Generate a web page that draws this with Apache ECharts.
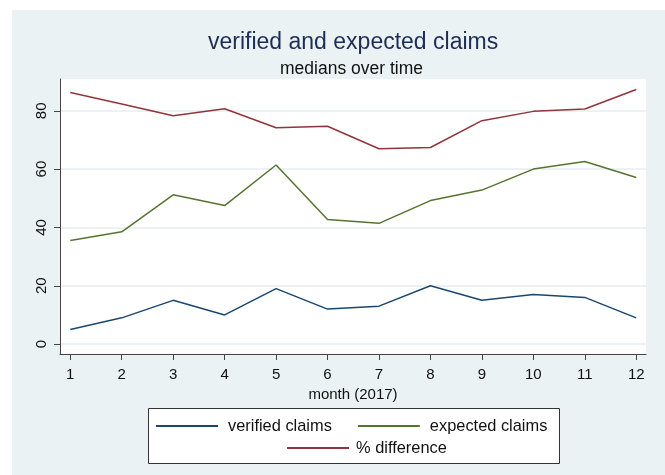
<!DOCTYPE html>
<html lang="en">
<head>
    <meta charset="UTF-8">
    <title>verified and expected claims</title>
    <script src="https://cdn.jsdelivr.net/npm/echarts@6/dist/echarts.min.js"></script>
    <style type="text/css">
        html, body { margin: 0; padding: 0; background: #fff; }
        #main { width: 665px; height: 475px; }
    </style>
</head>
<body>
<div id="main"></div>
<script type="text/javascript">
    // months of 2017 and the three median series
    var months = [1, 2, 3, 4, 5, 6, 7, 8, 9, 10, 11, 12];
    var verifiedClaims = [5, 9, 15, 10, 19, 12, 13, 20, 15, 17, 16, 9];
    var expectedClaims = [35.5, 38.5, 51.2, 47.5, 61.4, 42.7, 41.4, 49.2, 52.8, 60.0, 62.6, 57.1];
    var pctDifference = [86.3, 82.3, 78.3, 80.7, 74.2, 74.7, 67.0, 67.4, 76.6, 79.8, 80.6, 87.3];
    var yTicks = [0, 20, 40, 60, 80];

    var font = 'Liberation Sans, Arial, sans-serif';

    function pairs(vals) {
        var out = [];
        for (var i = 0; i < months.length; i++) {
            out.push([months[i], vals[i]]);
        }
        return out;
    }

    var myChart = echarts.init(document.getElementById('main'));

    var legendBase = {
        padding: 0,
        itemWidth: 62, itemHeight: 14,
        itemStyle: { opacity: 0 },      // hide the circle, keep the line
        textStyle: { fontFamily: font, fontSize: 16.4, color: '#111', padding: [0, 0, 0, 5] }
    };

    var option = {
        backgroundColor: '#fff',
        animation: false,
        textStyle: { fontFamily: font },
        graphic: [
            {
                type: 'rect', z: -10, silent: true,
                shape: { x: 12, y: 10, width: 653, height: 465 },
                style: { fill: '#eaf2f3' }
            },
            {
                type: 'rect', z: -5, silent: true,
                shape: { x: 148.5, y: 408.5, width: 411, height: 55 },
                style: { fill: '#fff', stroke: '#333', lineWidth: 1 }
            }
        ],
        title: [
            {
                text: 'verified and expected claims',
                left: 208, top: 31, padding: 0,
                textStyle: { fontFamily: font, fontSize: 23, fontWeight: 'normal', color: '#1e2d53' }
            },
            {
                text: 'medians over time',
                left: 280, top: 60, padding: 0,
                textStyle: { fontFamily: font, fontSize: 17.5, fontWeight: 'normal', color: '#111' }
            }
        ],
        grid: {
            left: 60, right: 19, top: 79, bottom: 121,
            show: true, backgroundColor: '#fff', borderWidth: 0,
            containLabel: false
        },
        legend: [
            Object.assign({}, legendBase, {
                data: ['verified claims', 'expected claims'],
                left: 155, top: 418, itemGap: 25
            }),
            Object.assign({}, legendBase, {
                data: ['% difference'],
                left: 286, top: 440,
                textStyle: { fontFamily: font, fontSize: 16.4, color: '#111', padding: [0, 0, 0, 2] }
            })
        ],
        xAxis: {
            type: 'value',
            min: 0.8, max: 12.19,
            name: 'month (2017)',
            nameLocation: 'middle',
            nameGap: 27,
            nameTextStyle: { fontFamily: font, fontSize: 15, color: '#111' },
            axisLine: { show: true, onZero: false, lineStyle: { color: '#444', width: 1 } },
            axisTick: { show: true, length: 6, customValues: months, lineStyle: { color: '#444' } },
            axisLabel: { customValues: months, margin: 13, fontSize: 15, color: '#111', fontFamily: font },
            splitLine: { show: false }
        },
        yAxis: {
            type: 'value',
            min: -3.4, max: 90.9,
            axisLine: { show: true, onZero: false, lineStyle: { color: '#444', width: 1 } },
            axisTick: { show: true, length: 6, customValues: yTicks, lineStyle: { color: '#444' } },
            axisLabel: { customValues: yTicks, rotate: 90, margin: 11, fontSize: 15, color: '#111', fontFamily: font },
            splitLine: { show: true, customValues: yTicks, lineStyle: { color: '#e6eef0', width: 1.5 } }
        },
        series: [
            {
                name: 'verified claims', type: 'line', symbol: 'none',
                data: pairs(verifiedClaims),
                itemStyle: { color: '#1a476f' },
                lineStyle: { color: '#1a476f', width: 1.5 }
            },
            {
                name: 'expected claims', type: 'line', symbol: 'none',
                data: pairs(expectedClaims),
                itemStyle: { color: '#55752f' },
                lineStyle: { color: '#55752f', width: 1.5 }
            },
            {
                name: '% difference', type: 'line', symbol: 'none',
                data: pairs(pctDifference),
                itemStyle: { color: '#90353b' },
                lineStyle: { color: '#90353b', width: 1.5 }
            }
        ]
    };

    myChart.setOption(option);
</script>
</body>
</html>
